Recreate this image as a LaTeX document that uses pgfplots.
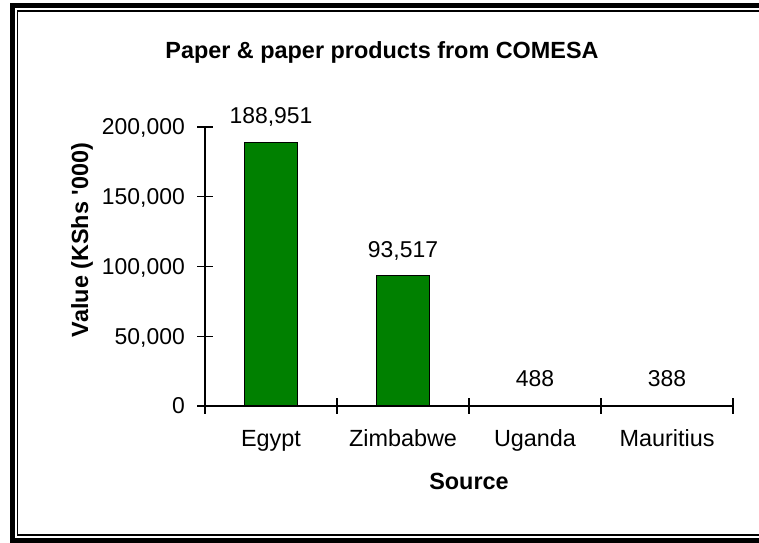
\documentclass[border=0pt]{standalone}
\usepackage{pgfplots}
\pgfplotsset{compat=1.18}
\usepackage{fontspec}
\setmainfont{Liberation Sans}
\begin{document}
\begin{tikzpicture}[x=1bp,y=1bp]
\useasboundingbox (0,0) rectangle (759,543);
\begin{scope}
\clip (0,0) rectangle (759,543);
\draw[line width=5bp] (12.5,537.5) rectangle (790,2.5);
\draw[line width=1.3bp] (17.5,532) rectangle (790,8);
\end{scope}
\begin{axis}[
  at={(205bp,137bp)}, anchor=south west,
  scale only axis, width=528bp, height=279bp,
  xmin=-0.5, xmax=3.5, ymin=0, ymax=200000,
  axis x line=bottom, axis y line=left,
  axis line style={-, line width=1.3bp},
  ybar, bar width=53bp,
  xtick={-0.5,0.5,1.5,2.5,3.5},
  xticklabels={Egypt,Zimbabwe,Uganda,Mauritius,{}},
  ytick={0,50000,100000,150000,200000},
  scaled y ticks=false,
  major tick length=16bp, tick align=center,
  xtick style={draw=black, line width=1.3bp},
  ytick style={draw=black, line width=1.3bp},
  /pgf/number format/assume math mode=true,
  yticklabel={\pgfmathprintnumber[fixed,precision=0,1000 sep={,}]{\tick}},
  yticklabel style={anchor=base east, inner sep=0pt, xshift=-12bp, yshift=-8bp, font=\fontsize{23}{28}\selectfont},
  xticklabel style={anchor=base, inner sep=0pt, xshift=66bp, yshift=-33bp, font=\fontsize{23.5}{28}\selectfont},
  nodes near coords={\pgfmathprintnumber[fixed,precision=0,1000 sep={,}]{\pgfplotspointmeta}},
  every node near coord/.append style={font=\fontsize{23}{28}\selectfont, anchor=base, inner sep=0pt, yshift=18.5bp},
  clip=false,
]
\addplot[fill=green!50!black, draw=black, line width=1.3bp] coordinates {(0,188951) (1,93517) (2,488) (3,388)};
\end{axis}
\node[anchor=base, font=\fontsize{23.5}{28}\selectfont\bfseries] at (382,484) {Paper \& paper products from COMESA};
\node[rotate=90, font=\fontsize{23.5}{28}\selectfont\bfseries] at (82,303) {Value (KShs \textquotesingle000)};
\node[anchor=base, font=\fontsize{23.5}{28}\selectfont\bfseries] at (469,53) {Source};
\end{tikzpicture}
\end{document}
